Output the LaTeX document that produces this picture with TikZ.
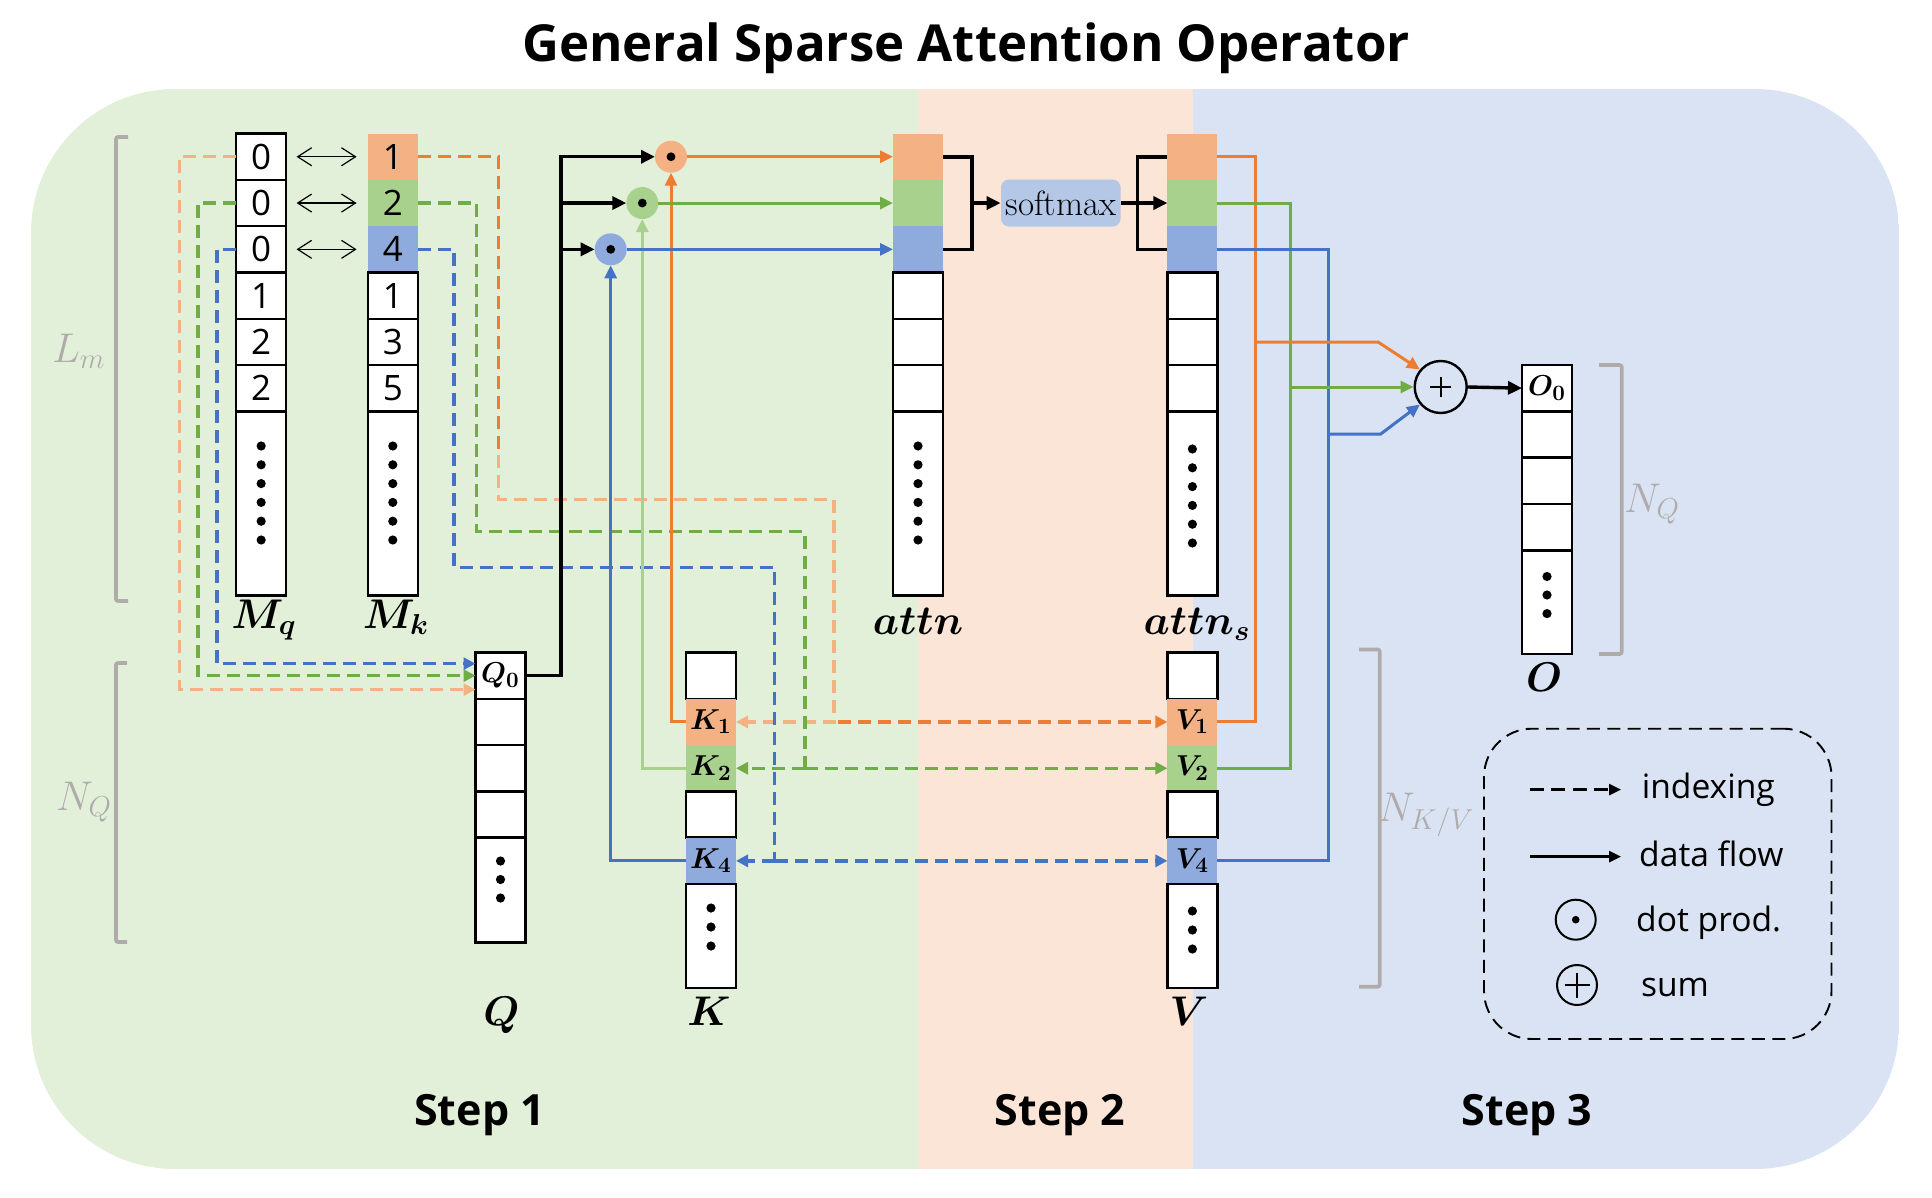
\documentclass[tikz,border=0pt]{standalone}
\usepackage{fontspec}
\newfontfamily\osans{Open Sans}
\usetikzlibrary{arrows.meta}
\definecolor{bggreen}{HTML}{E2F0D9}
\definecolor{bgorange}{HTML}{FBE5D6}
\definecolor{bgblue}{HTML}{DAE3F3}
\definecolor{dorange}{HTML}{ED7D31}
\definecolor{lorange}{HTML}{F4B183}
\definecolor{dgreen}{HTML}{70AD47}
\definecolor{lgreen}{HTML}{A9D18E}
\definecolor{dblue}{HTML}{4472C4}
\definecolor{lblue}{HTML}{8FAADC}
\definecolor{smblue}{HTML}{B4C7E7}
\definecolor{brgray}{HTML}{AFABAB}
\newcommand\digf{\fontsize{17.5}{18}\selectfont\osans}
\newcommand\subf{\fontsize{15.5}{16}\selectfont\boldmath}
\newcommand\labf{\fontsize{19.5}{22}\selectfont\boldmath}
\newcommand\glabf{\fontsize{20}{22}\selectfont}
\newcommand\legf{\fontsize{16.8}{18}\selectfont\osans}
\newcommand\stepf{\fontsize{21.5}{24}\selectfont\osans\bfseries}
\newcommand\titf{\fontsize{25.5}{28}\selectfont\osans\bfseries}
\newcommand\smf{\fontsize{17.5}{18}\selectfont}
\tikzset{
 cellw/.style={draw=black, line width=1.3pt, fill=white, minimum width=25pt, minimum height=23.15pt, inner sep=0pt, outer sep=0pt},
 cellc/.style={draw=none, minimum width=25pt, minimum height=23.15pt, inner sep=0pt, outer sep=0pt},
 mlab/.style={font=\labf, inner sep=0pt},
 glab/.style={font=\glabf, text=brgray, inner sep=0pt},
 flow/.style={line width=1.7pt, -{Triangle[length=7pt,width=6.5pt]}},
 cflow/.style={line width=1.5pt, -{Triangle[length=6.5pt,width=6pt]}},
 cline/.style={line width=1.5pt},
 idx/.style={line width=1.65pt, dash pattern=on 6.5pt off 3.5pt, -{Triangle[length=6pt,width=6pt]}},
 idxline/.style={line width=1.65pt, dash pattern=on 6.5pt off 3.5pt},
 brk/.style={draw=brgray, line width=1.8pt, rounded corners=1pt},
 dotc/.style={circle, minimum size=16pt, inner sep=0pt, outer sep=0pt},
 dbl/.style={line width=0.6pt, {Straight Barb[length=7pt,width=9pt]}-{Straight Barb[length=7pt,width=9pt]}},
}
\begin{document}
\begin{tikzpicture}[x=0.5pt,y=-0.5pt]
\useasboundingbox (0,0) rectangle (1932,1198);
% background bands
\begin{scope}
\clip[rounded corners=72pt] (31,89) rectangle (1899,1169);
\fill[bggreen] (31,89) rectangle (918,1169);
\fill[bgorange] (918,89) rectangle (1193,1169);
\fill[bgblue] (1193,89) rectangle (1899,1169);
\end{scope}
% title
\node[font=\titf, anchor=base, inner sep=0pt] (title) at (966,61.6) {General Sparse Attention Operator};
% brackets
\draw[brk] (128,137) -- (116,137) -- (116,601) -- (128,601);
\draw[brk] (127,663) -- (116,663) -- (116,942) -- (127,942);
\draw[brk] (1359,649.5) -- (1379.7,649.5) -- (1379.7,986.7) -- (1359,986.7);
\draw[brk] (1599,365) -- (1621.7,365) -- (1621.7,654) -- (1599,654);
\node[glab] (llm) at (79,351) {$L_m$};
\node[glab] (lnq1) at (84,802) {$N_Q$};
\node[glab] (lnq2) at (1652,504) {$N_Q$};
\node[glab] (lnkv) at (1426,815) {$N_{K/V}$};
% Mq column
\foreach \v/\y [count=\i] in {0/156.75,0/203.05,0/249.35,1/295.65,2/341.95,2/388.25}
  \node[cellw, font=\digf] (mq\i) at (261.15,\y) {\v};
\node[cellw, minimum height=92pt] (mq7) at (261.15,503.4) {};
% Mk column
\node[cellc, fill=lorange, font=\digf] (mk1) at (392.8,156.75) {1};
\node[cellc, fill=lgreen, font=\digf] (mk2) at (392.8,203.05) {2};
\node[cellc, fill=lblue, font=\digf] (mk3) at (392.8,249.35) {4};
\node[cellw, font=\digf] (mk4) at (392.8,295.65) {1};
\node[cellw, font=\digf] (mk5) at (392.8,341.95) {3};
\node[cellw, font=\digf] (mk6) at (392.8,388.25) {5};
\node[cellw, minimum height=92pt] (mk7) at (392.8,503.4) {};
\foreach \yy in {446,464.8,483.6,502.4,521.2,540}{
  \fill (261.15,\yy) circle[radius=2.3pt];
  \fill (392.8,\yy) circle[radius=2.3pt];
}
\node[mlab, anchor=base] (lmq) at (264,628) {$M_q$};
\node[mlab, anchor=base] (lmk) at (396,628) {$M_k$};
% double arrows
\draw[dbl] ([xshift=5.2pt]mq1.east) -- ([xshift=-5.6pt]mk1.west);
\draw[dbl] ([xshift=5.2pt]mq2.east) -- ([xshift=-5.6pt]mk2.west);
\draw[dbl] ([xshift=5.2pt]mq3.east) -- ([xshift=-5.6pt]mk3.west);
% attn column
\node[cellc, fill=lorange] (at1) at (918,156.75) {};
\node[cellc, fill=lgreen] (at2) at (918,203.05) {};
\node[cellc, fill=lblue] (at3) at (918,249.35) {};
\node[cellw] (at4) at (918,295.65) {};
\node[cellw] (at5) at (918,341.95) {};
\node[cellw] (at6) at (918,388.25) {};
\node[cellw, minimum height=92pt] (at7) at (918,503.4) {};
% attn_s column
\node[cellc, fill=lorange] (as1) at (1192.4,156.75) {};
\node[cellc, fill=lgreen] (as2) at (1192.4,203.05) {};
\node[cellc, fill=lblue] (as3) at (1192.4,249.35) {};
\node[cellw] (as4) at (1192.4,295.65) {};
\node[cellw] (as5) at (1192.4,341.95) {};
\node[cellw] (as6) at (1192.4,388.25) {};
\node[cellw, minimum height=92pt] (as7) at (1192.4,503.4) {};
\foreach \yy in {446,464.8,483.6,502.4,521.2,540}{
  \fill (918,\yy) circle[radius=2.3pt];
  \fill (1192.4,\yy+3) circle[radius=2.3pt];
}
\node[mlab, anchor=base] (lattn) at (918,634) {$attn$};
\node[mlab, anchor=base] (lattns) at (1197,634) {$attn_s$};
% Q column
\node[cellw, font=\subf] (q0) at (500.5,675.65) {$Q_0$};
\node[cellw] (q1) at (500.5,721.95) {};
\node[cellw] (q2) at (500.5,768.25) {};
\node[cellw] (q3) at (500.5,814.55) {};
\node[cellw, minimum height=52.4pt] (q4) at (500.5,890.1) {};
\foreach \yy in {861,879.5,898} \fill (500.5,\yy) circle[radius=2.3pt];
\node[mlab, anchor=base] (lq) at (501.5,1025) {$Q$};
% K column
\node[cellw] (k0) at (711,675.65) {};
\node[cellc, fill=lorange, font=\subf] (k1) at (711,721.95) {$K_1$};
\node[cellc, fill=lgreen, font=\subf] (k2) at (711,768.25) {$K_2$};
\node[cellw] (k3) at (711,814.55) {};
\node[cellc, fill=lblue, font=\subf] (k4) at (711,860.85) {$K_4$};
\node[cellw, minimum height=52pt] (k5) at (711,936) {};
\foreach \yy in {908,927,946} \fill (711,\yy) circle[radius=2.3pt];
\node[mlab, anchor=base] (lk) at (709,1025) {$K$};
% V column
\node[cellw] (v0) at (1192.4,675.65) {};
\node[cellc, fill=lorange, font=\subf] (v1) at (1192.4,721.95) {$V_1$};
\node[cellc, fill=lgreen, font=\subf] (v2) at (1192.4,768.25) {$V_2$};
\node[cellw] (v3) at (1192.4,814.55) {};
\node[cellc, fill=lblue, font=\subf] (v4) at (1192.4,860.85) {$V_4$};
\node[cellw, minimum height=52pt] (v5) at (1192.4,936) {};
\foreach \yy in {911,930,949} \fill (1192.4,\yy) circle[radius=2.3pt];
\node[mlab, anchor=base] (lv) at (1189,1025) {$V$};
% O column
\node[cellw, font=\subf] (o0) at (1547,388.15) {$O_0$};
\node[cellw] (o1) at (1547,434.45) {};
\node[cellw] (o2) at (1547,480.75) {};
\node[cellw] (o3) at (1547,527.05) {};
\node[cellw, minimum height=51.8pt] (o4) at (1547,602) {};
\foreach \yy in {576.5,595,613.6} \fill (1547,\yy) circle[radius=2.3pt];
\node[mlab, anchor=base] (lo) at (1544,691) {$O$};
% dot product circles
\node[dotc, fill=lorange] (dot1) at (671,156.75) {};
\node[dotc, fill=lgreen] (dot2) at (642.3,203.05) {};
\node[dotc, fill=lblue] (dot3) at (610.7,249.35) {};
\foreach \d in {dot1,dot2,dot3} \fill (\d.center) circle[radius=2.2pt];
% softmax
\node[fill=smblue, rounded corners=4pt, minimum width=59.8pt, minimum height=23.5pt, inner sep=0pt, font=\smf] (sm) at (1060.8,203.05) {softmax};
% sum
\node[circle, draw, line width=1.2pt, minimum size=26pt, inner sep=0pt] (sum) at (1440.7,387) {};
\draw[line width=0.9pt] (sum.center) ++(-10.3,0) -- ++(20.6,0) (sum.center) ++(0,-10.3) -- ++(0,20.6);
% ---------- indexing (dashed) ----------
\draw[idx, lorange] (mq1.west) -- ++(-56.7,0) |- ([yshift=-7pt]q0.west);
\draw[idx, dgreen] (mq2.west) -- ++(-38.3,0) |- (q0.west);
\draw[idx, dblue] (mq3.west) -- ++(-19.3,0) |- ([yshift=6pt]q0.west);
\coordinate (ob) at (498.8,455);
\coordinate (oj) at (834,499.6);
\coordinate (oc) at (838,721.95);
\draw[idxline, dorange] (mk1.east) -| (ob);
\draw[idx, lorange] (ob) |- (oj) |- (k1.east);
\draw[idx, dorange] (oc) -- (v1.west);
\coordinate (gj) at (805,768.25);
\draw[idxline, dgreen] (mk2.east) -| (476.8,531.8) -| (gj);
\draw[idx, dgreen] (gj) -- (k2.east);
\draw[idx, dgreen] (gj) -- (v2.west);
\coordinate (bj) at (774.8,860.85);
\draw[idxline, dblue] (mk3.east) -| (454,567.5) -| (bj);
\draw[idx, dblue] (bj) -- (k4.east);
\draw[idx, dblue] (bj) -- (v4.west);
% ---------- data flow ----------
\coordinate (tr1) at (561,156.75);
\coordinate (tr2) at (561,203.05);
\coordinate (tr3) at (561,249.35);
\draw[flow] (q0.east) -| (tr1) -- (dot1.west);
\draw[flow] (tr2) -- (dot2.west);
\draw[flow] (tr3) -- (dot3.west);
\draw[cflow, dorange] (k1.west) -| (dot1.south);
\draw[cflow, lgreen] (k2.west) -| (dot2.south);
\draw[cflow, dblue] (k4.west) -| (dot3.south);
\draw[cflow, dorange] (dot1.east) -- (at1.west);
\draw[cflow, dgreen] (dot2.east) -- (at2.west);
\draw[cflow, dblue] (dot3.east) -- (at3.west);
% softmax brackets
\coordinate (bra) at (972,203.05);
\draw[line width=1.8pt] (at1.east) -| (bra) |- (at3.east);
\draw[flow] (bra) -- (sm.west);
\draw[flow] (sm.east) -- (as2.west);
\coordinate (brb) at (1137.4,203.05);
\draw[line width=1.8pt] (as1.west) -| (brb) |- (as3.west);
% to sum
\coordinate (oR) at (1255,342);
\coordinate (gR) at (1290,387);
\coordinate (bR) at (1328.3,434);
\draw[cline, dorange] (as1.east) -| (v1.east -| oR) -- (v1.east);
\draw[cline, dgreen] (as2.east) -| (v2.east -| gR) -- (v2.east);
\draw[cline, dblue] (as3.east) -| (v4.east -| bR) -- (v4.east);
\draw[cflow, dorange] (oR) -- (1378,342) -- (sum.140);
\draw[cflow, dgreen] (gR) -- (sum.west);
\draw[cflow, dblue] (bR) -- (1380.7,434) -- (sum.220);
\draw[flow] (sum.east) -- (o0.west);
% ---------- legend ----------
\node[draw=black, line width=0.95pt, dash pattern=on 6.5pt off 3.7pt, rounded corners=24pt, minimum width=173.75pt, minimum height=155.15pt, inner sep=0pt] (legend) at (1657.75,883.85) {};
\coordinate (l1a) at (1530,789.6);
\coordinate (l1b) at (1621,789.6);
\draw[line width=1.3pt, dash pattern=on 7pt off 3.7pt, -{Triangle[length=6pt,width=5.5pt]}] (l1a) -- (l1b);
\coordinate (l2a) at (1530,856.6);
\coordinate (l2b) at (1621,856.6);
\draw[line width=1.3pt, -{Triangle[length=6pt,width=5.5pt]}] (l2a) -- (l2b);
\node[circle, draw, line width=1pt, minimum size=20pt, inner sep=0pt] (l3) at (1575.7,919.7) {};
\fill (l3.center) circle[radius=1.9pt];
\node[circle, draw, line width=1pt, minimum size=20pt, inner sep=0pt] (l4) at (1577,985) {};
\draw[line width=0.9pt] (l4.center) ++(-12.5,0) -- ++(25,0) (l4.center) ++(0,-12.5) -- ++(0,25);
\node[font=\legf, anchor=base west, inner sep=0pt] (t1) at (1641.4,798.8) {indexing};
\node[font=\legf, anchor=base west, inner sep=0pt] (t2) at (1638.8,866.2) {data flow};
\node[font=\legf, anchor=base west, inner sep=0pt] (t3) at (1635.8,931.5) {dot prod.};
\node[font=\legf, anchor=base west, inner sep=0pt] (t4) at (1640.6,996) {sum};
% steps
\node[font=\stepf, anchor=base, inner sep=0pt] (s1) at (479.6,1125) {Step 1};
\node[font=\stepf, anchor=base, inner sep=0pt] (s2) at (1060,1125) {Step 2};
\node[font=\stepf, anchor=base, inner sep=0pt] (s3) at (1527,1125) {Step 3};
\end{tikzpicture}
\end{document}
